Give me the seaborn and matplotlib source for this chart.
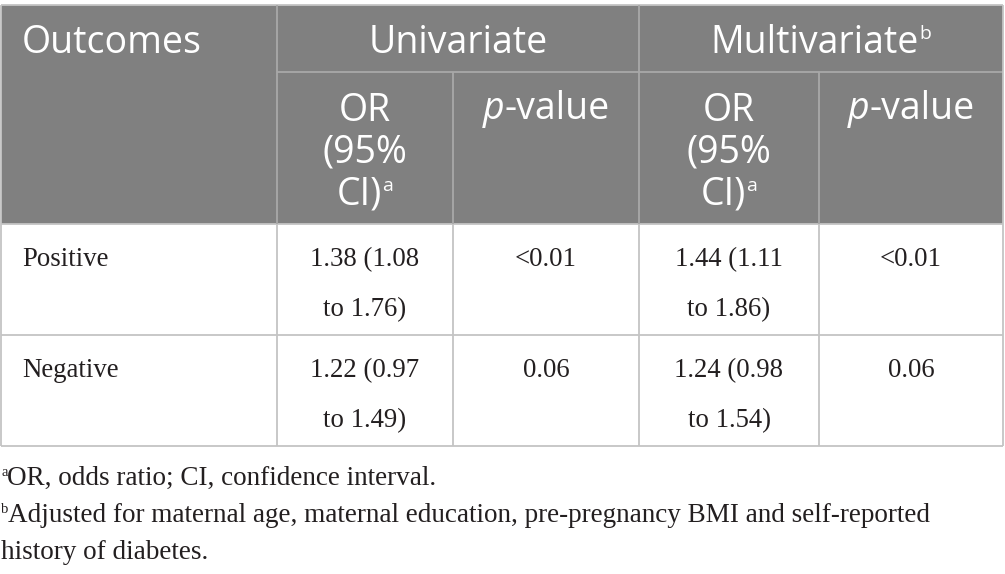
import matplotlib
matplotlib.use("Agg")
import matplotlib.pyplot as plt
from matplotlib.patches import Rectangle
import seaborn as sns

# table content
outcomes = ["Positive", "Negative"]
uni_or = [["1.38 (1.08", "to 1.76)"], ["1.22 (0.97", "to 1.49)"]]
uni_p = ["<0.01", "0.06"]
multi_or = [["1.44 (1.11", "to 1.86)"], ["1.24 (0.98", "to 1.54)"]]
multi_p = ["<0.01", "0.06"]
group_labels = ["Outcomes", "Univariate", "Multivariate"]
footnote_a = "OR, odds ratio; CI, confidence interval."
footnote_b = ["Adjusted for maternal age, maternal education, pre-pregnancy BMI and self-reported",
              "history of diabetes."]

sns.set_theme(style="white")
plt.rcParams["font.family"] = ["Open Sans", "DejaVu Sans"]

W, H = 1005, 574
fig = plt.figure(figsize=(W / 100, H / 100), dpi=100)
ax = fig.add_axes([0, 0, 1, 1])
ax.set_xlim(0, W)
ax.set_ylim(H, 0)
ax.axis("off")
rend = fig.canvas.get_renderer()

# grid geometry (pixels)
xs = [1, 277, 453, 639, 819, 1003]
ys = [5, 72, 224, 335, 446]
head_col = "#808080"
line_col = "#c4c4c4"
head_line = "#a8a8a8"
body_col = "#231f20"
SANS = ["Open Sans", "DejaVu Sans"]
SERIF = ["Liberation Serif", "DejaVu Serif"]

ax.add_patch(Rectangle((xs[0], ys[0]), xs[-1] - xs[0], ys[2] - ys[0],
                       facecolor=head_col, edgecolor="none", zorder=0))


def hline(y, x0, x1, c=line_col):
    ax.plot([x0, x1], [y, y], color=c, lw=1.3, solid_capstyle="butt", zorder=2)


def vline(x, y0, y1, c=line_col):
    ax.plot([x, x], [y0, y1], color=c, lw=1.3, solid_capstyle="butt", zorder=2)


hline(ys[0], xs[0], xs[-1])
hline(ys[1], xs[1], xs[-1], head_line)
for y in ys[2:]:
    hline(y, xs[0], xs[-1])
vline(xs[0], ys[0], ys[-1])
vline(xs[-1], ys[0], ys[-1])
for x in (xs[1], xs[3]):
    vline(x, ys[0], ys[2], head_line)
for x in (xs[2], xs[4]):
    vline(x, ys[1], ys[2], head_line)
for x in xs[1:5]:
    vline(x, ys[2], ys[-1])


def runs(x, y, parts, ha="center", color="white", family=SANS):
    """draw text pieces side by side on one baseline"""
    arts, widths = [], []
    for txt, size, style, dy in parts:
        t = ax.text(0, y - dy, txt, fontsize=size, fontstyle=style, color=color,
                    family=family, ha="left", va="baseline", zorder=3)
        widths.append(t.get_window_extent(renderer=rend).width)
        arts.append(t)
    total = sum(widths)
    cur = x - total / 2 if ha == "center" else x
    for t, w in zip(arts, widths):
        t.set_x(cur)
        cur += w


HS = 27
SUP = 14
# header row 1
runs(22, 53, [(group_labels[0], HS, "normal", 0)], ha="left")
runs((xs[1] + xs[3]) / 2, 53, [(group_labels[1], HS, "normal", 0)])
runs((xs[3] + xs[5]) / 2, 53, [(group_labels[2], HS, "normal", 0), ("b", SUP, "normal", 14)])

# header row 2
for c in (1, 3):
    cx = (xs[c] + xs[c + 1]) / 2
    runs(cx, 121, [("OR", HS, "normal", 0)])
    runs(cx, 163, [("(95%", HS, "normal", 0)])
    runs(cx, 205, [("CI)", HS, "normal", 0), ("a", SUP, "normal", 14)])
for c in (2, 4):
    cx = (xs[c] + xs[c + 1]) / 2
    runs(cx, 119, [("p", HS, "italic", 0), ("-value", HS, "normal", 0)])

# body rows
BS = 19.3
for i in range(len(outcomes)):
    top = ys[2 + i]
    b1, b2 = top + 42, top + 92
    runs(22, b1, [(outcomes[i], BS, "normal", 0)], ha="left", color=body_col, family=SERIF)
    for c, lines in ((1, uni_or[i]), (3, multi_or[i])):
        cx = (xs[c] + xs[c + 1]) / 2
        runs(cx, b1, [(lines[0], BS, "normal", 0)], color=body_col, family=SERIF)
        runs(cx, b2, [(lines[1], BS, "normal", 0)], color=body_col, family=SERIF)
    runs((xs[2] + xs[3]) / 2, b1, [(uni_p[i], BS, "normal", 0)], color=body_col, family=SERIF)
    runs((xs[4] + xs[5]) / 2, b1, [(multi_p[i], BS, "normal", 0)], color=body_col, family=SERIF)

# footnotes
FS = 19.5
runs(1, 485, [("a", 10.5, "normal", 9), (footnote_a, FS, "normal", 0)], ha="left",
     color=body_col, family=SERIF)
runs(1, 522, [("b", 10.5, "normal", 9), (footnote_b[0], FS, "normal", 0)], ha="left",
     color=body_col, family=SERIF)
runs(1, 559, [(footnote_b[1], FS, "normal", 0)], ha="left", color=body_col, family=SERIF)

fig.savefig("out.png", dpi=100, facecolor="white")
